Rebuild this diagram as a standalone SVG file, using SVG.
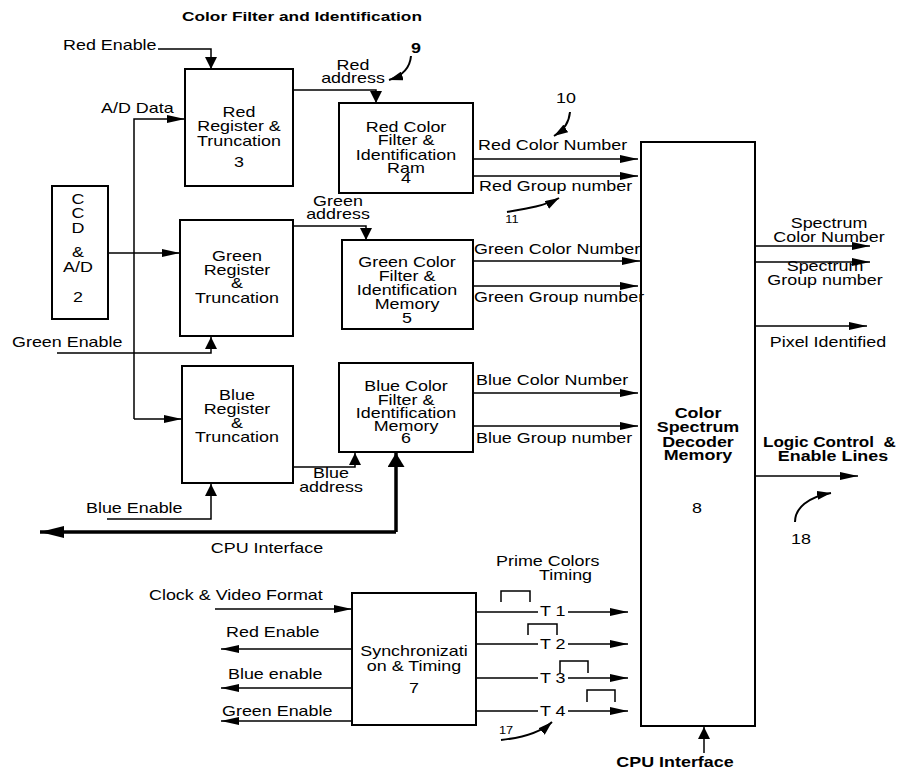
<svg xmlns="http://www.w3.org/2000/svg" width="901" height="769" viewBox="0 0 901 769">
<style>
text{font-family:"Liberation Sans",Arial,sans-serif;font-size:14px;fill:#000}
.m{text-anchor:middle}
.b{font-weight:bold}
.s{font-size:10px}
.box{fill:#fff;stroke:#000;stroke-width:2}
.ln{fill:none;stroke:#000;stroke-width:1.5}
.th{fill:none;stroke:#000;stroke-width:3.5}
.cv{fill:none;stroke:#000;stroke-width:2}
</style>
<defs>
<marker id="ah" markerUnits="userSpaceOnUse" viewBox="0 0 18 8" markerWidth="18" markerHeight="8" refX="18" refY="4" orient="auto"><path d="M0,0 L18,4 L0,8 z" fill="#000"/></marker>
<marker id="av" markerUnits="userSpaceOnUse" viewBox="0 0 12 12" markerWidth="12" markerHeight="12" refX="12" refY="6" orient="auto"><path d="M0,0 L12,6 L0,12 z" fill="#000"/></marker>
<marker id="ac" markerUnits="userSpaceOnUse" viewBox="0 0 14 9" markerWidth="14" markerHeight="9" refX="14" refY="4.5" orient="auto"><path d="M0,0 L14,4.5 L0,9 z" fill="#000"/></marker>
<marker id="atl" markerUnits="userSpaceOnUse" viewBox="0 0 24 12" markerWidth="24" markerHeight="12" refX="24" refY="6" orient="auto"><path d="M0,0 L24,6 L0,12 z" fill="#000"/></marker>
<marker id="atu" markerUnits="userSpaceOnUse" viewBox="0 0 14 17" markerWidth="14" markerHeight="17" refX="14" refY="8.5" orient="auto"><path d="M0,0 L14,8.5 L0,17 z" fill="#000"/></marker>
</defs>
<rect width="901" height="769" fill="#fff"/>
<text class="m b" style="font-size:13.5px" transform="matrix(1.28 0 0 1 302 21)">Color Filter and Identification</text>

<g id="connectors">
<path class="ln" d="M158,49 H211 V69" marker-end="url(#av)"/>
<path class="ln" d="M134,419 V119 H185" marker-end="url(#ah)"/>
<path class="ln" d="M134,419 H182" marker-end="url(#ah)"/>
<path class="ln" d="M108,253 H180" marker-end="url(#ah)"/>
<path class="ln" d="M57,353 H211 V337" marker-end="url(#av)"/>
<path class="ln" d="M107,519 H211 V484" marker-end="url(#av)"/>
<path class="ln" d="M293,90 H376 V103" marker-end="url(#av)"/>
<path class="ln" d="M293,226 H366 V240" marker-end="url(#av)"/>
<path class="ln" d="M293,467 H355 V453" marker-end="url(#av)"/>
<path class="th" d="M396,532 H40" marker-end="url(#atl)"/>
<path class="th" d="M396,532 V453" marker-end="url(#atu)"/>
<path class="ln" d="M473,159 H638" marker-end="url(#ah)"/>
<path class="ln" d="M473,176 H638" marker-end="url(#ah)"/>
<path class="ln" d="M473,261 H640" marker-end="url(#ah)"/>
<path class="ln" d="M473,286 H638" marker-end="url(#ah)"/>
<path class="ln" d="M473,393 H638" marker-end="url(#ah)"/>
<path class="ln" d="M473,426 H638" marker-end="url(#ah)"/>
<path class="ln" d="M755,246 H870" marker-end="url(#ah)"/>
<path class="ln" d="M755,262 H870" marker-end="url(#ah)"/>
<path class="ln" d="M755,326 H867" marker-end="url(#ah)"/>
<path class="ln" d="M755,476 H858" marker-end="url(#ah)"/>
<path class="ln" d="M215,609 H352" marker-end="url(#ah)"/>
<path class="ln" d="M352,649 H221" marker-end="url(#ah)"/>
<path class="ln" d="M352,688 H221" marker-end="url(#ah)"/>
<path class="ln" d="M352,721 H221" marker-end="url(#ah)"/>
<path class="ln" d="M476,612 H538 M568,612 H628" marker-end="url(#ah)"/>
<path class="ln" d="M476,644 H538 M568,644 H628" marker-end="url(#ah)"/>
<path class="ln" d="M476,678 H538 M568,678 H628" marker-end="url(#ah)"/>
<path class="ln" d="M476,711 H538 M568,711 H628" marker-end="url(#ah)"/>
<path class="ln" d="M501,602 V591 H530 V602"/>
<path class="ln" d="M528,635 V624 H557 V635"/>
<path class="ln" d="M560,673 V661 H588 V673"/>
<path class="ln" d="M587,702 V690 H615 V702"/>
<path class="ln" d="M704,753 V727" marker-end="url(#av)"/>
<path class="cv" d="M411,56 C410,68 402,76 389,80" marker-end="url(#ac)"/>
<path class="cv" d="M570,112 C569,122 565,129 554,136" marker-end="url(#ac)"/>
<path class="cv" d="M507,212 C525,209 545,206 559,198" marker-end="url(#ac)"/>
<path class="cv" d="M501,740 C520,738 540,733 552,722" marker-end="url(#ac)"/>
<path class="cv" d="M795,522 C795,508 808,497 831,493" marker-end="url(#ac)"/>
</g>

<g id="ccd">
<rect class="box" x="52" y="186" width="56" height="133"/>
<text class="m" transform="matrix(1.28 0 0 1 78 204)">C</text>
<text class="m" transform="matrix(1.28 0 0 1 78 218)">C</text>
<text class="m" transform="matrix(1.28 0 0 1 78 233)">D</text>
<text class="m" transform="matrix(1.28 0 0 1 78 257)">&amp;</text>
<text class="m" transform="matrix(1.28 0 0 1 78 272)">A/D</text>
<text class="m" transform="matrix(1.28 0 0 1 78 302)">2</text>
</g>

<g id="red-register">
<rect class="box" x="185" y="69" width="108" height="117"/>
<text class="m" transform="matrix(1.28 0 0 1 239 117)">Red</text>
<text class="m" transform="matrix(1.28 0 0 1 239 131)">Register &amp;</text>
<text class="m" transform="matrix(1.28 0 0 1 239 146)">Truncation</text>
<text class="m" transform="matrix(1.28 0 0 1 239 167)">3</text>
</g>

<g id="green-register">
<rect class="box" x="180" y="220" width="113" height="116"/>
<text class="m" transform="matrix(1.28 0 0 1 237 261)">Green</text>
<text class="m" transform="matrix(1.28 0 0 1 237 275)">Register</text>
<text class="m" transform="matrix(1.28 0 0 1 237 288)">&amp;</text>
<text class="m" transform="matrix(1.28 0 0 1 237 303)">Truncation</text>
</g>

<g id="blue-register">
<rect class="box" x="182" y="366" width="111" height="117"/>
<text class="m" transform="matrix(1.28 0 0 1 237 400)">Blue</text>
<text class="m" transform="matrix(1.28 0 0 1 237 414)">Register</text>
<text class="m" transform="matrix(1.28 0 0 1 237 428)">&amp;</text>
<text class="m" transform="matrix(1.28 0 0 1 237 442)">Truncation</text>
</g>

<g id="red-filter">
<rect class="box" x="339" y="103" width="134" height="90"/>
<text class="m" transform="matrix(1.28 0 0 1 406 132)">Red Color</text>
<text class="m" transform="matrix(1.28 0 0 1 406 145)">Filter &amp;</text>
<text class="m" transform="matrix(1.28 0 0 1 406 160)">Identification</text>
<text class="m" transform="matrix(1.28 0 0 1 406 173)">Ram</text>
<text class="m" transform="matrix(1.28 0 0 1 406 183)">4</text>
</g>

<g id="green-filter">
<rect class="box" x="342" y="240" width="131" height="89"/>
<text class="m" transform="matrix(1.28 0 0 1 407 267)">Green Color</text>
<text class="m" transform="matrix(1.28 0 0 1 407 281)">Filter &amp;</text>
<text class="m" transform="matrix(1.28 0 0 1 407 295)">Identification</text>
<text class="m" transform="matrix(1.28 0 0 1 407 309)">Memory</text>
<text class="m" transform="matrix(1.28 0 0 1 407 323)">5</text>
</g>

<g id="blue-filter">
<rect class="box" x="339" y="363" width="134" height="89"/>
<text class="m" transform="matrix(1.28 0 0 1 406 391)">Blue Color</text>
<text class="m" transform="matrix(1.28 0 0 1 406 405)">Filter &amp;</text>
<text class="m" transform="matrix(1.28 0 0 1 406 418)">Identification</text>
<text class="m" transform="matrix(1.28 0 0 1 406 431)">Memory</text>
<text class="m" transform="matrix(1.28 0 0 1 406 443)">6</text>
</g>

<g id="decoder">
<rect class="box" x="641" y="142" width="114" height="584"/>
<text class="m b" transform="matrix(1.28 0 0 1 698 418)">Color</text>
<text class="m b" transform="matrix(1.28 0 0 1 698 432)">Spectrum</text>
<text class="m b" transform="matrix(1.28 0 0 1 698 447)">Decoder</text>
<text class="m b" transform="matrix(1.28 0 0 1 698 460)">Memory</text>
<text class="m" transform="matrix(1.28 0 0 1 697 513)">8</text>
</g>

<g id="sync">
<rect class="box" x="352" y="593" width="124" height="132"/>
<text class="m" transform="matrix(1.28 0 0 1 414 656)">Synchronizati</text>
<text class="m" transform="matrix(1.28 0 0 1 414 671)">on &amp; Timing</text>
<text class="m" transform="matrix(1.28 0 0 1 414 693)">7</text>
</g>

<g id="labels">
<text transform="matrix(1.28 0 0 1 63 50)">Red Enable</text>
<text transform="matrix(1.28 0 0 1 101 113)">A/D Data</text>
<text class="m" transform="matrix(1.28 0 0 1 353 70)">Red</text>
<text class="m" transform="matrix(1.28 0 0 1 353 83)">address</text>
<text class="m b" transform="matrix(1.28 0 0 1 416 53)">9</text>
<text transform="matrix(1.28 0 0 1 478 150)">Red Color Number</text>
<text transform="matrix(1.28 0 0 1 479 191)">Red Group number</text>
<text class="m" transform="matrix(1.28 0 0 1 566 103)">10</text>
<text class="m s" transform="matrix(1.28 0 0 1 512 223)">11</text>
<text transform="matrix(1.28 0 0 1 12 347)">Green Enable</text>
<text class="m" transform="matrix(1.28 0 0 1 338 206)">Green</text>
<text class="m" transform="matrix(1.28 0 0 1 338 219)">address</text>
<text transform="matrix(1.28 0 0 1 474 254)">Green Color Number</text>
<text transform="matrix(1.28 0 0 1 474 302)">Green Group number</text>
<text transform="matrix(1.28 0 0 1 86 513)">Blue Enable</text>
<text class="m" transform="matrix(1.28 0 0 1 331 478)">Blue</text>
<text class="m" transform="matrix(1.28 0 0 1 331 492)">address</text>
<text class="m" transform="matrix(1.28 0 0 1 267 553)">CPU Interface</text>
<text transform="matrix(1.28 0 0 1 476 385)">Blue Color Number</text>
<text transform="matrix(1.28 0 0 1 476 443)">Blue Group number</text>
<text class="m" transform="matrix(1.28 0 0 1 829 228)">Spectrum</text>
<text class="m" transform="matrix(1.28 0 0 1 829 242)">Color Number</text>
<text class="m" transform="matrix(1.28 0 0 1 825 271)">Spectrum</text>
<text class="m" transform="matrix(1.28 0 0 1 825 285)">Group number</text>
<text class="m" transform="matrix(1.28 0 0 1 828 347)">Pixel Identified</text>
<text class="b" xml:space="preserve" transform="matrix(1.22 0 0 1 763 447)">Logic Control  &amp;</text>
<text class="m b" transform="matrix(1.28 0 0 1 833 461)">Enable Lines</text>
<text class="m" transform="matrix(1.28 0 0 1 801 544)">18</text>
<text transform="matrix(1.28 0 0 1 149 600)">Clock &amp; Video Format</text>
<text transform="matrix(1.28 0 0 1 226 637)">Red Enable</text>
<text transform="matrix(1.28 0 0 1 228 679)">Blue enable</text>
<text transform="matrix(1.28 0 0 1 222 716)">Green Enable</text>
<text transform="matrix(1.28 0 0 1 496 566)">Prime Colors</text>
<text transform="matrix(1.28 0 0 1 539 580)">Timing</text>
<text transform="matrix(1.28 0 0 1 540 616)">T 1</text>
<text transform="matrix(1.28 0 0 1 540 649)">T 2</text>
<text transform="matrix(1.28 0 0 1 540 683)">T 3</text>
<text transform="matrix(1.28 0 0 1 540 716)">T 4</text>
<text class="m s" transform="matrix(1.28 0 0 1 506 734)">17</text>
<text class="m b" transform="matrix(1.28 0 0 1 675 767)">CPU Interface</text>
</g>
</svg>
